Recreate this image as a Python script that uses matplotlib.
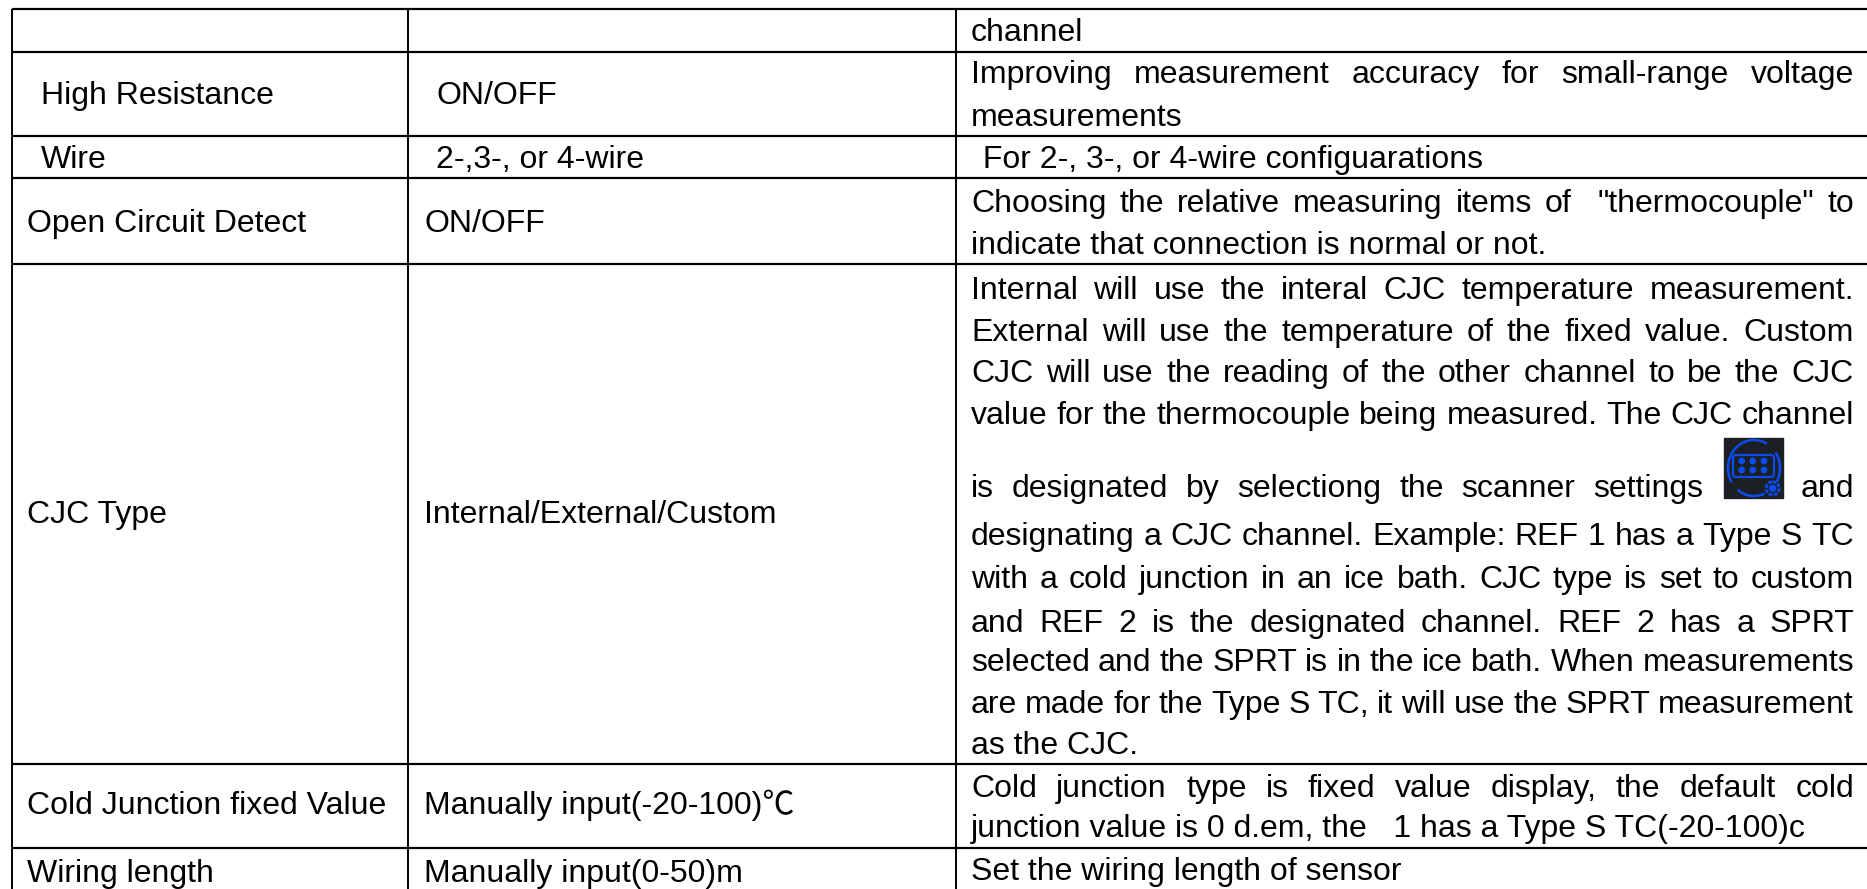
import matplotlib
matplotlib.use('Agg')
import matplotlib.pyplot as plt
from matplotlib.patches import Arc, Circle, FancyBboxPatch, Rectangle

plt.rcParams['font.family'] = ['Liberation Sans', 'Noto Sans CJK SC']

W, H = 1867, 889
FONT = 23.0  # pt at dpi 100

# Table grid, in pixels of the picture
row_lines = [9, 52, 136, 178, 264, 764, 848]
col_lines = [12, 408, 956]

# Left column
names = ['High Resistance', 'Wire', 'Open Circuit Detect', 'CJC Type',
         'Cold Junction fixed Value', 'Wiring length']
names_x = [41, 41, 27, 27, 27, 27]
names_y = [104, 168, 232, 523, 814, 882]

# Middle column
values = ['ON/OFF', '2-,3-, or 4-wire', 'ON/OFF', 'Internal/External/Custom',
          'Manually input(-20-100)℃', 'Manually input(0-50)m']
values_x = [436, 436, 424, 424, 424, 424]

# Right column, True means the line is justified
notes = [
    'channel',
    'Improving measurement accuracy for small-range voltage',
    'measurements',
    ' For 2-, 3-, or 4-wire configuarations',
    'Choosing the relative measuring items of  "thermocouple" to',
    'indicate that connection is normal or not.',
    'Internal will use the interal CJC temperature measurement.',
    'External will use the temperature of the fixed value. Custom',
    'CJC will use the reading of the other channel to be the CJC',
    'value for the thermocouple being measured. The CJC channel',
    'is designated by selectiong the scanner settings',
    'designating a CJC channel. Example: REF 1 has a Type S TC',
    'with a cold junction in an ice bath. CJC type is set to custom',
    'and REF 2 is the designated channel. REF 2 has a SPRT',
    'selected and the SPRT is in the ice bath. When measurements',
    'are made for the Type S TC, it will use the SPRT measurement',
    'as the CJC.',
    'Cold junction type is fixed value display, the default cold',
    'junction value is 0 d.em, the   1 has a Type S TC(-20-100)c',
    'Set the wiring length of sensor',
]
notes_y = [41, 83, 126, 168, 212, 254, 299, 341, 382, 424, 497, 545, 588, 632,
           671, 713, 754, 797, 837, 880]
notes_just = [False, True, False, False, True, False, True, True, True, True,
              True, True, True, True, True, True, False, True, False, False]
NOTE_LEFT = 971
NOTE_RIGHT = 1854

fig = plt.figure(figsize=(W / 100, H / 100), dpi=100, facecolor='white')
ax = fig.add_axes([0, 0, 1, 1])
ax.set_xlim(0, W)
ax.set_ylim(H, 0)
ax.axis('off')
renderer = fig.canvas.get_renderer()


def put(x, y, s, ha='left'):
    return ax.text(x, y, s, fontsize=FONT, color='black', ha=ha, va='baseline')


# Spreads the words of one line between two x positions
def justified(s, y, x0, x1):
    words = s.split(' ')
    items = [put(x0, y, w) if w else None for w in words]
    widths = [t.get_window_extent(renderer).width if t else 0 for t in items]
    gap = (x1 - x0 - sum(widths)) / (len(words) - 1)
    x = x0
    for t, w in zip(items, widths):
        if t:
            t.set_x(x)
        x += w + gap


# Grid lines
for y in row_lines:
    ax.plot([col_lines[0], W], [y, y], color='black', lw=1.6, solid_capstyle='butt')
for x in col_lines:
    ax.plot([x, x], [row_lines[0], H], color='black', lw=1.4, solid_capstyle='butt')

# Text
for s, x, y in zip(names, names_x, names_y):
    put(x, y, s)
for s, x, y in zip(values, values_x, names_y):
    put(x, y, s)
for s, y, just in zip(notes, notes_y, notes_just):
    if s.startswith('is designated'):
        justified(s, y, NOTE_LEFT, 1703)
        put(NOTE_RIGHT, y, 'and', ha='right')
    elif just:
        justified(s, y, NOTE_LEFT, NOTE_RIGHT)
    elif s.startswith(' '):
        put(NOTE_LEFT + 3, y, s)
    else:
        put(NOTE_LEFT, y, s)

# Scanner settings icon
blue = '#0a4cf0'
dark = '#1c1f24'
ax.add_patch(Rectangle((1724, 438), 59, 60, color=dark, zorder=3))
for t1, t2 in [(147, 298), (324, 392), (67, 127)]:
    ax.add_patch(Arc((1754, 468), 52, 56, theta1=t1, theta2=t2, color=blue, lw=1.8, zorder=4))
ax.add_patch(FancyBboxPatch((1733, 455), 41, 22, boxstyle='round,pad=0,rounding_size=3',
                            fc='none', ec=blue, lw=1.6, zorder=4))
for cx in [1741.7, 1752.7, 1764]:
    for cy in [461, 470]:
        ax.add_patch(Circle((cx, cy), 2.7, color=blue, zorder=4))
ax.add_patch(Circle((1772.7, 488.3), 6.5, fc=dark, ec=blue, lw=2.2, ls=(0, (1.2, 0.5)), zorder=5))
ax.add_patch(Circle((1772.7, 488.3), 3, color=blue, zorder=5))

fig.savefig('out.png', dpi=100, facecolor='white')
